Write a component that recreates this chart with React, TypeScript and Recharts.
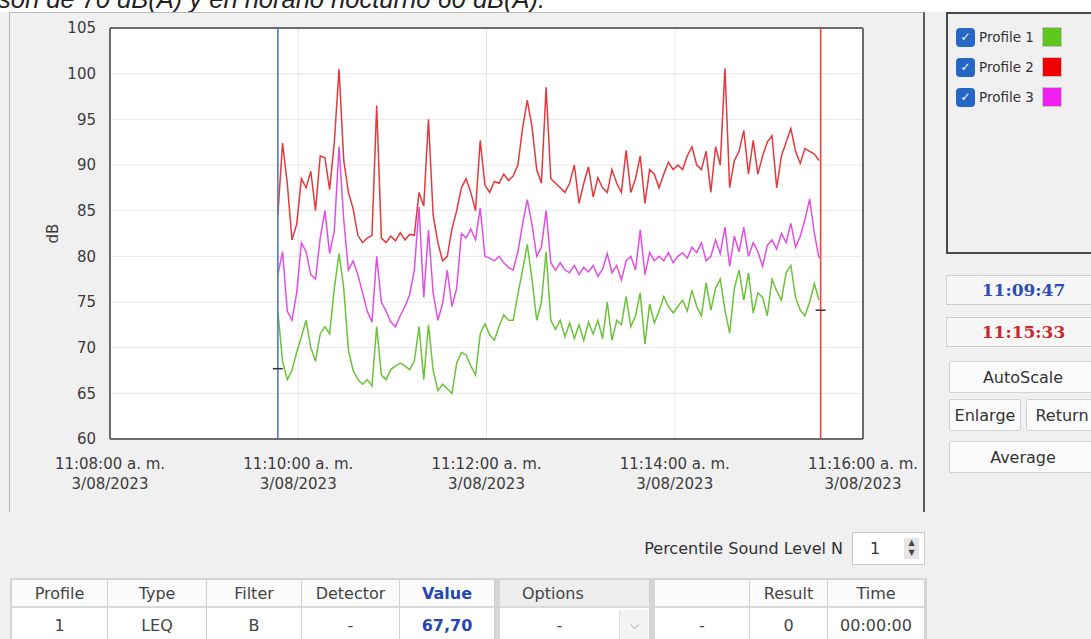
import React from 'react';
import { LineChart, Line, XAxis, YAxis, CartesianGrid, ReferenceLine, ReferenceDot } from 'recharts';

// seconds after 11:08:00, one sample every 3 s between the two cursors
const SAMPLE_START = 107;
const SAMPLE_STEP = 3;

const PROFILE_1 = [
    74, 68.5, 66.5, 67.5, 69.5, 71.2, 73, 70, 68.5, 71.5,
    72.3, 71.5, 76.5, 80.3, 76.5, 69.7, 67.5, 66.5, 66, 66.5,
    65.8, 72.3, 67, 66.5, 67.6, 68, 68.3, 68, 67.6, 68.5,
    72.3, 66.5, 72.5, 67.5, 65.3, 66, 65.5, 65, 68.3, 69.5,
    69.2, 68, 67, 71.5, 72.6, 71.4, 70.8, 72.3, 73.6, 73,
    73, 75.8, 78.5, 81.3, 77.5, 73, 75, 80.5, 73, 72,
    73, 71.2, 72.7, 71, 72.5, 70.8, 72.8, 71.5, 73, 71,
    75, 70.8, 73, 72.5, 75.6, 72.3, 73.5, 76, 70.4, 74.8,
    72.7, 74, 75.6, 74.5, 73.8, 74.5, 75.2, 74, 76.3, 74.5,
    73.5, 77.1, 74.1, 76.5, 77.5, 74.1, 71.6, 76.5, 78.5, 75.2,
    78.2, 73.8, 76, 75.5, 73.5, 77.5, 76.2, 75.2, 78.2, 79,
    75.5, 74.1, 73.5, 75, 77, 75.2,
];

const PROFILE_2 = [
    84.5, 92.4, 88, 81.8, 83.5, 88.5, 87.5, 89.3, 85, 91,
    90.8, 87.3, 92.5, 100.5, 90.5, 87, 85.2, 82.3, 81.5, 82,
    82.3, 96.5, 82, 81.5, 82.2, 81.7, 82.6, 81.8, 82.4, 82.3,
    87, 85.5, 95, 84.5, 81.5, 79.5, 80, 83, 85, 87.5,
    88.5, 87, 85, 92.7, 87.8, 87, 88.2, 88, 89, 88.3,
    88.8, 90, 94, 97.1, 94.2, 89.5, 88, 98.5, 88.5, 88,
    87.5, 87, 88, 90, 85.8, 88, 89.8, 86.5, 88.6, 87.5,
    87, 89.5, 88, 87, 91.6, 87, 88.5, 91, 85.8, 89.5,
    89, 87.5, 89, 90.3, 89.5, 90, 89.5, 91, 92, 90,
    89.5, 91.5, 87, 92, 90, 100.6, 87.5, 90.5, 91.5, 93.8,
    89, 92.7, 89, 91, 92.5, 93.2, 87.5, 91, 92.5, 94,
    91.5, 90.2, 91.8, 91.5, 91.2, 90.5,
];

const PROFILE_3 = [
    78, 80.5, 74, 73, 76, 81.5, 80.5, 78, 77.5, 82,
    85, 80.3, 82.8, 92, 84, 78.5, 79.5, 78, 76, 74,
    72.8, 80, 75, 74, 72.8, 72.3, 73.5, 74.5, 75.8, 78.5,
    85.4, 75.5, 82.9, 76, 73, 74.8, 78.5, 74.5, 76.5, 82.5,
    82, 83, 81.8, 85.3, 80, 79.8, 79.5, 80, 79.3, 78.8,
    78.5, 80.5, 83.5, 86.2, 83.5, 80, 81, 85, 79.3, 78.5,
    79.3, 78.5, 78.2, 79, 78, 78.8, 78.3, 79, 77.8, 78.6,
    80.3, 78.2, 79, 77.4, 79.5, 80, 78.5, 82.9, 78, 80.4,
    79.5, 80, 79.5, 80.4, 79.3, 80, 80.4, 79.8, 81, 80.4,
    81.5, 79.5, 80, 81.8, 80.3, 83.2, 78.9, 82.2, 80.5, 83.2,
    80, 81.5, 80.5, 78.9, 81.2, 81.8, 80.8, 82.5, 81.5, 83.6,
    81, 82.2, 84, 86.3, 82.5, 79.8,
];

const X_TICKS = [0, 120, 240, 360, 480];
const X_TICK_TIMES = ['11:08:00 a. m.', '11:10:00 a. m.', '11:12:00 a. m.', '11:14:00 a. m.', '11:16:00 a. m.'];
const X_TICK_DATES = ['3/08/2023', '3/08/2023', '3/08/2023', '3/08/2023', '3/08/2023'];
const Y_TICKS = [60, 65, 70, 75, 80, 85, 90, 95, 100, 105];

// cursors: 11:09:47 and 11:15:33
const CURSOR_A = 107;
const CURSOR_B = 453;
const CURSOR_A_VALUE = 67.7;
const CURSOR_B_VALUE = 74.1;

const PROFILES = [
    { key: 'p1', name: 'Profile 1', swatch: '#5ec61c', stroke: '#6cc23a' },
    { key: 'p2', name: 'Profile 2', swatch: '#f00000', stroke: '#e23a3e' },
    { key: 'p3', name: 'Profile 3', swatch: '#f01ef0', stroke: '#e050e0' },
];

const rows = PROFILE_1.map((v, i) => ({
    t: SAMPLE_START + i * SAMPLE_STEP,
    p1: v,
    p2: PROFILE_2[i],
    p3: PROFILE_3[i],
}));

const TABLE_COLS = [
    { head: 'Profile', value: '1', left: 12, width: 96 },
    { head: 'Type', value: 'LEQ', left: 108, width: 99 },
    { head: 'Filter', value: 'B', left: 207, width: 95 },
    { head: 'Detector', value: '-', left: 302, width: 98 },
    { head: 'Value', value: '67,70', left: 400, width: 95, blue: true },
    { head: 'Options', value: '-', left: 500, width: 150, options: true },
    { head: '', value: '-', left: 655, width: 95 },
    { head: 'Result', value: '0', left: 750, width: 78 },
    { head: 'Time', value: '00:00:00', left: 828, width: 97 },
];

const FONT = '"DejaVu Sans", sans-serif';
const TEXT = '#3c3c3c';
const FRAME = '#6b6b6b';

function TimeTick({ x, y, payload }: any) {
    const i = X_TICKS.indexOf(payload.value);
    return (
        <g>
            <text x={x} y={y + 28} textAnchor="middle" fontSize={15} fill={TEXT} fontFamily={FONT}>
                {X_TICK_TIMES[i]}
            </text>
            <text x={x} y={y + 48} textAnchor="middle" fontSize={15} fill={TEXT} fontFamily={FONT}>
                {X_TICK_DATES[i]}
            </text>
        </g>
    );
}

const cursorMark = (p: any) => (
    <line x1={p.cx - 5} x2={p.cx + 5} y1={p.cy} y2={p.cy} stroke="#333" strokeWidth={1.5} />
);

function Button({ label, left, top, width }: { label: string; left: number; top: number; width: number }) {
    return (
        <div style={{
            position: 'absolute', left, top, width, height: 32, boxSizing: 'border-box',
            background: '#fbfbfb', border: '1px solid #d2d2d2', borderRadius: 2,
            display: 'flex', alignItems: 'center', justifyContent: 'center',
            fontSize: 16, color: '#333',
        }}>{label}</div>
    );
}

export default function App() {
    return (
        <div style={{
            position: 'absolute', left: 0, top: 0, width: 1091, height: 639, overflow: 'hidden',
            background: '#f0f0f0', fontFamily: FONT,
        }}>
            {/* strip of the document above the screenshot */}
            <div style={{ position: 'absolute', left: 0, top: 0, width: 1091, height: 12, background: '#fff', overflow: 'hidden' }}>
                <div style={{
                    position: 'absolute', left: -2, top: -16, whiteSpace: 'nowrap',
                    fontFamily: '"Liberation Sans", Arial, sans-serif', fontStyle: 'italic', fontSize: 25.5,
                    lineHeight: '30px', color: '#222',
                }}>son de 70 dB(A) y en horario nocturno 60 dB(A).</div>
            </div>

            {/* chart panel */}
            <div style={{
                position: 'absolute', left: 9, top: 12, width: 916, height: 500, boxSizing: 'border-box',
                borderLeft: '1px solid #b8b8b8', borderTop: '1px solid #b8b8b8', borderRight: '2px solid #5a5a5a',
            }} />

            <div style={{ position: 'absolute', left: 0, top: 0 }}>
                <LineChart width={930} height={510} data={rows} margin={{ top: 28, right: 67, bottom: 21, left: 50 }}>
                    <CartesianGrid stroke="#e8e8e8" fill="#ffffff" />
                    <XAxis
                        type="number"
                        dataKey="t"
                        domain={[0, 480]}
                        ticks={X_TICKS}
                        interval={0}
                        allowDataOverflow
                        height={50}
                        tickLine={false}
                        tickSize={0}
                        axisLine={{ stroke: FRAME, strokeWidth: 2 }}
                        tick={<TimeTick />}
                    />
                    <YAxis
                        type="number"
                        domain={[60, 105]}
                        ticks={Y_TICKS}
                        interval={0}
                        allowDataOverflow
                        width={60}
                        tickLine={false}
                        tickSize={0}
                        tickMargin={14}
                        axisLine={{ stroke: FRAME, strokeWidth: 2 }}
                        tick={{ fontSize: 15, fill: TEXT, fontFamily: FONT }}
                        label={{
                            value: 'dB', angle: -90, position: 'insideLeft', offset: 3,
                            style: { textAnchor: 'middle', fontSize: 15, fill: TEXT, fontFamily: FONT },
                        }}
                    />
                    <ReferenceLine y={105} stroke={FRAME} strokeWidth={2} />
                    <ReferenceLine x={480} stroke={FRAME} strokeWidth={2} />
                    {PROFILES.map((p) => (
                        <Line
                            key={p.key}
                            type="linear"
                            dataKey={p.key}
                            name={p.name}
                            stroke={p.stroke}
                            strokeWidth={1.5}
                            dot={false}
                            isAnimationActive={false}
                        />
                    ))}
                    <ReferenceLine x={CURSOR_A} stroke="#4d7cc4" strokeWidth={1.6} />
                    <ReferenceLine x={CURSOR_B} stroke="#e04545" strokeWidth={1.6} />
                    <ReferenceDot x={CURSOR_A} y={CURSOR_A_VALUE} shape={cursorMark} />
                    <ReferenceDot x={CURSOR_B} y={CURSOR_B_VALUE} shape={cursorMark} />
                </LineChart>
            </div>

            {/* profile legend */}
            <div style={{
                position: 'absolute', left: 946, top: 12, width: 160, height: 242, boxSizing: 'border-box',
                border: '2px solid #4a4a4a', background: '#f0f0f0',
            }}>
                {PROFILES.map((p, i) => (
                    <div key={p.key} style={{ position: 'absolute', left: 8, top: 13 + i * 30, height: 20, display: 'flex', alignItems: 'center' }}>
                        <div style={{
                            width: 19, height: 19, borderRadius: 4, background: '#2467c4', color: '#fff',
                            fontSize: 12, lineHeight: '19px', textAlign: 'center',
                        }}>✓</div>
                        <div style={{ marginLeft: 4, width: 63, fontSize: 13.5, color: '#333' }}>{p.name}</div>
                        <div style={{ width: 20, height: 20, boxSizing: 'border-box', border: '1px solid #c4c4c4', background: p.swatch }} />
                    </div>
                ))}
            </div>

            {/* cursor times */}
            <div style={{
                position: 'absolute', left: 946, top: 275, width: 155, height: 30, boxSizing: 'border-box',
                background: '#f6f6f6', border: '1px solid #cfcfcf', display: 'flex', alignItems: 'center', justifyContent: 'center',
                fontFamily: '"DejaVu Serif", serif', fontWeight: 'bold', fontSize: 17, color: '#2d4fb5',
            }}>11:09:47</div>
            <div style={{
                position: 'absolute', left: 946, top: 317, width: 155, height: 30, boxSizing: 'border-box',
                background: '#f6f6f6', border: '1px solid #cfcfcf', display: 'flex', alignItems: 'center', justifyContent: 'center',
                fontFamily: '"DejaVu Serif", serif', fontWeight: 'bold', fontSize: 17, color: '#c8282c',
            }}>11:15:33</div>

            <Button label="AutoScale" left={949} top={361} width={148} />
            <Button label="Enlarge" left={949} top={399} width={72} />
            <Button label="Return" left={1026} top={399} width={72} />
            <Button label="Average" left={949} top={441} width={148} />

            {/* percentile selector */}
            <div style={{
                position: 'absolute', left: 560, top: 535, width: 283, textAlign: 'right',
                fontSize: 16, lineHeight: '28px', color: '#333',
            }}>Percentile Sound Level N</div>
            <div style={{
                position: 'absolute', left: 852, top: 532, width: 73, height: 33, boxSizing: 'border-box',
                background: '#fff', border: '1px solid #c8c8c8',
            }}>
                <div style={{ position: 'absolute', left: 17, top: 0, lineHeight: '31px', fontSize: 16, color: '#333' }}>1</div>
                <div style={{
                    position: 'absolute', left: 51, top: 5, width: 15, height: 21, background: '#e4e4e4',
                    fontSize: 8, lineHeight: '10px', textAlign: 'center', color: '#444',
                }}>▲<br />▼</div>
            </div>

            {/* results table */}
            <div style={{ position: 'absolute', left: 10, top: 578, width: 917, height: 70, background: '#d6d6d6' }} />
            {TABLE_COLS.map((c) => (
                <React.Fragment key={c.left}>
                    <div style={{
                        position: 'absolute', left: c.left, top: 580, width: c.width, height: 28, boxSizing: 'border-box',
                        background: c.options ? '#ededed' : '#fbfbfb', borderRight: '1px solid #d0d0d0', borderBottom: '2px solid #dadada',
                        display: 'flex', alignItems: 'center', justifyContent: c.options ? 'flex-start' : 'center',
                        paddingLeft: c.options ? 22 : 0,
                        fontSize: 16, color: c.blue ? '#2746b5' : '#444', fontWeight: c.blue ? 'bold' : 'normal',
                    }}>{c.head}</div>
                    <div style={{
                        position: 'absolute', left: c.left, top: 608, width: c.width, height: 34, boxSizing: 'border-box',
                        background: '#fff', borderRight: '1px solid #d0d0d0',
                        display: 'flex', alignItems: 'center', justifyContent: 'center',
                        paddingRight: c.options ? 30 : 0,
                        fontSize: 16, color: c.blue ? '#2746b5' : '#444', fontWeight: c.blue ? 'bold' : 'normal',
                    }}>
                        {c.value}
                        {c.options && (
                            <div style={{
                                position: 'absolute', right: 1, top: 2, width: 28, height: 30, background: '#f4f4f4',
                                borderLeft: '1px solid #e0e0e0', color: '#999', fontSize: 12, lineHeight: '30px', textAlign: 'center',
                            }}>⌵</div>
                        )}
                    </div>
                </React.Fragment>
            ))}
        </div>
    );
}
